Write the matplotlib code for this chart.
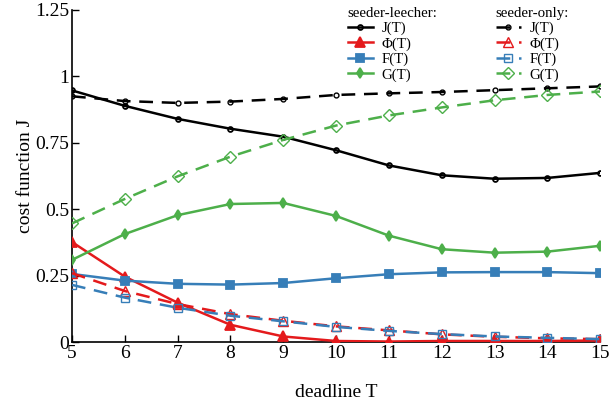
import matplotlib
matplotlib.use("Agg")
import matplotlib.pyplot as plt

plt.rcParams['font.family'] = ['Liberation Serif', 'DejaVu Serif']

T = [5, 6, 7, 8, 9, 10, 11, 12, 13, 14, 15]

# seeder-leecher
J_sl = [0.947, 0.889, 0.840, 0.803, 0.773, 0.722, 0.665, 0.628, 0.615, 0.618, 0.637]
Phi_sl = [0.377, 0.247, 0.149, 0.066, 0.022, 0.005, 0.003, 0.005, 0.005, 0.005, 0.007]
F_sl = [0.257, 0.232, 0.220, 0.217, 0.223, 0.241, 0.256, 0.263, 0.264, 0.264, 0.260]
G_sl = [0.310, 0.407, 0.478, 0.520, 0.524, 0.475, 0.401, 0.350, 0.337, 0.341, 0.363]

# seeder-only
J_so = [0.925, 0.907, 0.900, 0.905, 0.915, 0.930, 0.936, 0.941, 0.948, 0.955, 0.962]
Phi_so = [0.260, 0.193, 0.144, 0.106, 0.081, 0.060, 0.045, 0.030, 0.021, 0.015, 0.012]
F_so = [0.216, 0.168, 0.130, 0.100, 0.079, 0.058, 0.043, 0.031, 0.022, 0.017, 0.012]
G_so = [0.447, 0.539, 0.624, 0.698, 0.761, 0.815, 0.853, 0.883, 0.910, 0.930, 0.943]

labels = ['J(T)', '\u03a6(T)', 'F(T)', 'G(T)']
yticks = [0, 0.25, 0.5, 0.75, 1, 1.25]
ytick_labels = ['0', '0.25', '0.5', '0.75', '1', '1.25']

black = '#000000'
red = '#e41a1c'
blue = '#377eb8'
green = '#4daf4a'

fig = plt.figure(figsize=(6.1, 4.09), dpi=100)
ax = fig.add_axes([0.118, 0.163, 0.866, 0.813])

lw = 1.8
dash = (0, (5.5, 3.5))
sl_specs = [
    (J_sl, black, 'o', 3.5, 'none'),
    (Phi_sl, red, '^', 7, red),
    (F_sl, blue, 's', 6, blue),
    (G_sl, green, 'd', 5, green),
]
so_specs = [
    (J_so, black, 'o', 3.5),
    (Phi_so, red, '^', 7),
    (F_so, blue, 's', 6),
    (G_so, green, 'D', 6),
]
h_sl = []
h_so = []
for (y, c, m, ms, fc), lab in zip(sl_specs, labels):
    h, = ax.plot(T, y, color=c, lw=lw, marker=m, ms=ms, mfc=fc, mec=c,
                 mew=1.3, label=lab, zorder=3)
    h_sl.append(h)
for (y, c, m, ms), lab in zip(so_specs, labels):
    h, = ax.plot(T, y, color=c, lw=lw, ls=dash, marker=m, ms=ms, mfc='none',
                 mec=c, mew=1.0, label=lab, zorder=3)
    h_so.append(h)

ax.set_xlim(5, 15)
ax.set_ylim(0, 1.25)
ax.set_xticks(T)
ax.set_yticks(yticks)
ax.set_yticklabels(ytick_labels)
ax.tick_params(direction='in', labelsize=14, length=5, width=1, pad=2)
for s in ['top', 'right']:
    ax.spines[s].set_visible(False)
for s in ['left', 'bottom']:
    ax.spines[s].set_linewidth(1.2)

ax.set_xlabel('deadline T', fontsize=14, labelpad=16)
ax.set_ylabel('cost function J', fontsize=14, labelpad=1)

common = dict(loc='upper left', frameon=False, fontsize=10.7,
              title_fontsize=10.7, alignment='left', handlelength=1.7,
              handletextpad=0.6, labelspacing=0.12, borderpad=0.1)
leg1 = ax.legend(handles=h_sl, title='seeder-leecher:',
                 bbox_to_anchor=(0.505, 1.035), **common)
ax.add_artist(leg1)
leg2 = ax.legend(handles=h_so, title='seeder-only:',
                 bbox_to_anchor=(0.785, 1.035), **common)

fig.savefig('out.png', dpi=100)
